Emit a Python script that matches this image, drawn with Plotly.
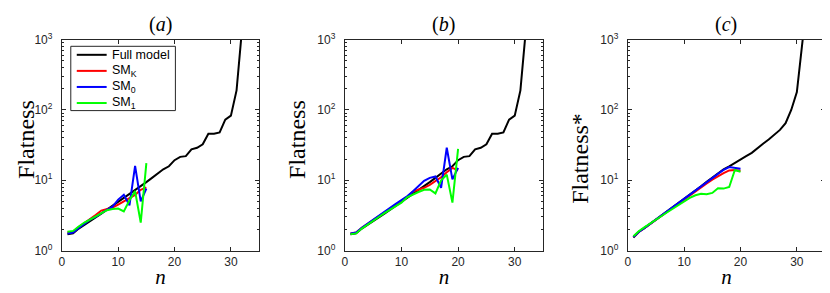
import plotly.graph_objects as go

# ---------------- data ----------------
n_full = list(range(1, 33))
n_a = list(range(1, 16))
n_bc = list(range(1, 21))

full_ab = [1.7, 1.75, 2.05, 2.3, 2.6, 2.95, 3.35, 3.8, 4.3, 4.9, 5.6, 6.3, 7.2, 8.2, 9.4, 10.8,
           12.6, 14.3, 15.8, 19.3, 21.5, 22, 27.5, 29, 32.5, 46, 46, 48, 73, 83, 190, 1500]
smk_a = [1.8, 1.85, 2.15, 2.45, 2.75, 3.2, 3.7, 3.9, 4.1, 4.5, 5.0, 5.6, 6.2, 7.3, 7.9]
sm0_a = [1.75, 1.8, 2.1, 2.4, 2.75, 3.0, 3.4, 3.8, 4.2, 5.3, 6.2, 4.4, 16, 5.0, 7.6]
sm1_a = [1.85, 1.9, 2.2, 2.5, 2.75, 3.05, 3.45, 3.75, 3.9, 3.95, 3.6, 5.2, 7.0, 2.5, 17.5]

smk_b = [1.75, 1.8, 2.1, 2.4, 2.7, 3.05, 3.5, 3.95, 4.5, 5.1, 5.8, 6.9, 7.3, 7.8, 8.6, 9.6,
         11.0, 13.0, 15.0, 13.8]
sm0_b = [1.75, 1.8, 2.1, 2.4, 2.75, 3.1, 3.55, 4.0, 4.6, 5.2, 5.9, 6.9, 8.2, 9.8, 10.8, 11.3,
         7.8, 29, 10.3, 15]
sm1_b = [1.7, 1.75, 2.05, 2.35, 2.65, 3.0, 3.4, 3.85, 4.35, 4.8, 5.7, 6.3, 6.8, 7.3, 7.4, 6.5,
         10, 12, 4.8, 28]

full_c = [1.53, 1.85, 2.1, 2.4, 2.75, 3.15, 3.6, 4.1, 4.7, 5.4, 6.2, 7.1, 8.2, 9.5, 11, 12.6,
          14.3, 15.8, 17.8, 20, 22, 24.5, 28, 33, 38, 45, 52, 65, 100, 180, 850, 5000]
smk_c = [1.55, 1.85, 2.1, 2.4, 2.75, 3.15, 3.6, 4.1, 4.7, 5.4, 6.1, 6.9, 7.9, 9.0, 10.2, 11.4,
         12.6, 13.8, 14.0, 13.6]
sm0_c = [1.55, 1.85, 2.1, 2.4, 2.75, 3.15, 3.6, 4.1, 4.7, 5.4, 6.2, 7.1, 8.1, 9.3, 10.7, 12.3,
         14.0, 15.4, 15.0, 14.6]
sm1_c = [1.6, 1.9, 2.15, 2.45, 2.75, 3.1, 3.5, 3.95, 4.45, 5.1, 5.6, 6.1, 6.4, 6.3, 6.6, 7.7,
         7.6, 8.0, 14.0, 13.2]

series_names = ["Full model", "SM<sub>K</sub>", "SM<sub>0</sub>", "SM<sub>1</sub>"]
colors = ["#000000", "#ff0000", "#0000ff", "#00ff00"]

x_ticks = [0, 10, 20, 30]
y_ticks = [1, 10, 100, 1000]
y_ticktext = ["10<sup>0</sup>", "10<sup>1</sup>", "10<sup>2</sup>", "10<sup>3</sup>"]
panel_titles = ["(<i>a</i>)", "(<i>b</i>)", "(<i>c</i>)"]
y_titles = ["Flatness", "Flatness", "Flatness*"]

# ---------------- geometry (page pixels; page body has an 8px margin) ----------------
W, H = 830, 293
OFF = 8


def px(x):
    return (x - OFF) / W


def py(y):
    return 1 - (y - OFF) / H


x_px = [(59, 257), (343, 542), (627, 825)]
y_top, y_bot = 32, 255
ytitle_y = [137, 137, 157]
ytitle_dx = [36, 48, 48]

fig = go.Figure()

panels = [
    (n_a, full_ab, [smk_a, sm0_a, sm1_a]),
    (n_bc, full_ab, [smk_b, sm0_b, sm1_b]),
    (n_bc, full_c, [smk_c, sm0_c, sm1_c]),
]

for i, (nn, full, sms) in enumerate(panels):
    ax = "" if i == 0 else str(i + 1)
    fig.add_trace(go.Scatter(x=n_full, y=full, mode="lines", name=series_names[0],
                             line=dict(color=colors[0], width=2),
                             xaxis="x" + ax, yaxis="y" + ax, showlegend=False))
    for k, s in enumerate(sms):
        fig.add_trace(go.Scatter(x=nn, y=s, mode="lines", name=series_names[k + 1],
                                 line=dict(color=colors[k + 1], width=2),
                                 xaxis="x" + ax, yaxis="y" + ax, showlegend=False))

axcol = "#262626"
sans = "Liberation Sans, Arial, sans-serif"
serif = "Liberation Serif, Times New Roman, serif"
tickfont = dict(family=sans, size=12, color=axcol)

shapes = []
annotations = []

layout = dict(
    width=W, height=H,
    margin=dict(l=0, r=0, t=0, b=0),
    paper_bgcolor="white", plot_bgcolor="white",
    showlegend=False,
)

for i in range(3):
    ax = "" if i == 0 else str(i + 1)
    x0, x1 = x_px[i]
    layout["xaxis" + ax] = dict(
        domain=[px(x0), px(x1)], anchor="y" + ax, range=[0, 35],
        tickvals=x_ticks, ticks="inside", ticklen=4, tickcolor=axcol, tickwidth=1,
        showline=True, linecolor=axcol, linewidth=1, mirror="ticks",
        showgrid=False, zeroline=False, tickfont=tickfont,
        title=dict(text="<i>n</i>", font=dict(family=serif, size=21, color="#000"), standoff=1),
    )
    layout["yaxis" + ax] = dict(
        domain=[py(y_bot), py(y_top)], anchor="x" + ax, type="log", range=[0, 3],
        tickvals=y_ticks, ticktext=y_ticktext, ticks="inside", ticklen=4, tickcolor=axcol,
        tickwidth=1, showline=True, linecolor=axcol, linewidth=1, mirror="ticks",
        showgrid=False, zeroline=False, tickfont=tickfont, ticklabelstandoff=6,
        minor=dict(ticks="inside", ticklen=2, tickcolor=axcol, showgrid=False,
                   tickvals=[m * 10 ** e for e in range(3) for m in range(2, 10)]),
    )
    annotations.append(dict(
        text=panel_titles[i], xref="paper", yref="paper",
        x=px((x0 + x1) / 2), y=1, yshift=5, xanchor="center", yanchor="top", borderpad=0,
        showarrow=False, font=dict(family=serif, size=20, color="#000")))
    annotations.append(dict(
        text=y_titles[i], xref="paper", yref="paper", textangle=-90,
        x=px(x0 - ytitle_dx[i]), y=py(ytitle_y[i]), xanchor="center", yanchor="middle",
        borderpad=0, showarrow=False, font=dict(family=serif, size=24, color="#000")))

# ---------------- legend (panel a, upper left) ----------------
leg_box = (68, 39, 173, 107)
shapes.append(dict(type="rect", xref="paper", yref="paper",
                   x0=px(leg_box[0]), x1=px(leg_box[2]), y0=py(leg_box[3]), y1=py(leg_box[1]),
                   line=dict(color=axcol, width=1), fillcolor="white", layer="above"))
leg_rows = [48, 65, 82, 99]
for k in range(4):
    yy = leg_rows[k]
    shapes.append(dict(type="line", xref="paper", yref="paper",
                       x0=px(74), x1=px(104), y0=py(yy), y1=py(yy),
                       line=dict(color=colors[k], width=2), layer="above"))
    annotations.append(dict(text=series_names[k], xref="paper", yref="paper",
                            x=px(107), y=py(yy), xanchor="left", yanchor="middle",
                            showarrow=False, font=dict(family=sans, size=12.5, color="#000")))

layout["shapes"] = shapes
layout["annotations"] = annotations
fig.update_layout(**layout)
fig.write_html("out.html")
